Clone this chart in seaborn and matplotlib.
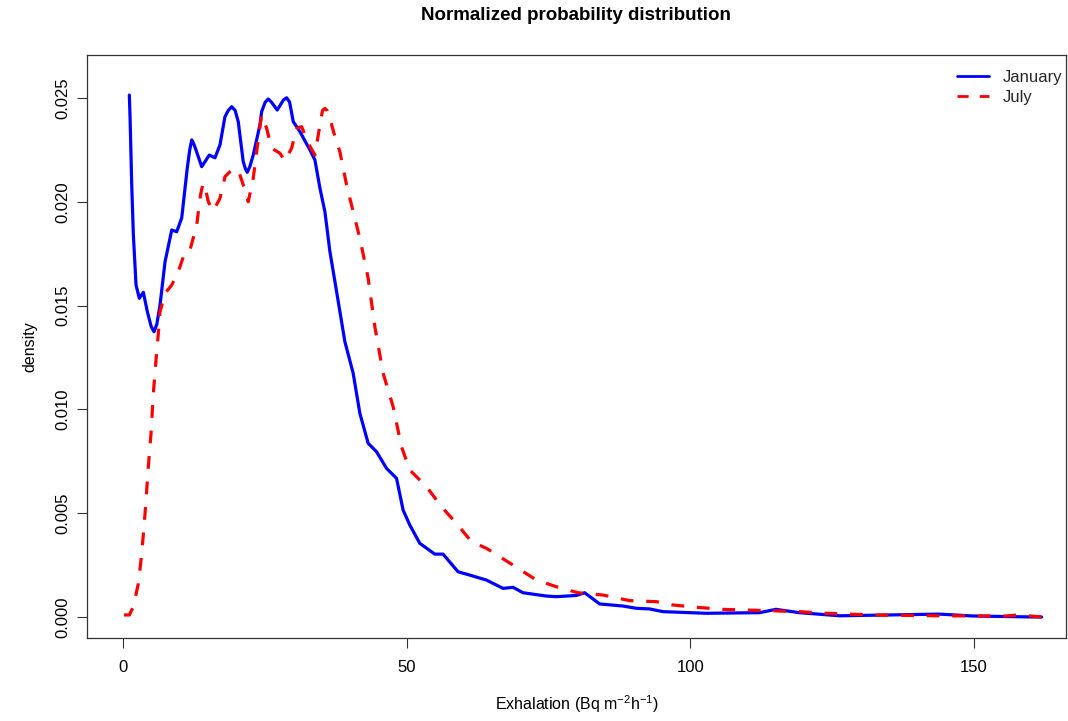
import numpy as np
import pandas as pd
import matplotlib
matplotlib.use("Agg")
import matplotlib.pyplot as plt
import seaborn as sns

# January density curve
jan_x = [1.16, 1.29, 1.58, 1.87, 2.34, 2.92, 3.63, 4.33, 5.0, 5.51, 6.0, 6.57, 7.45, 8.63,
         9.51, 10.39, 11.37, 11.8, 12.15, 12.5, 12.90, 13.91, 15.25, 16.25, 17.13, 18.01,
         18.6, 19.19, 19.8, 20.35, 21.23, 21.6, 21.94, 22.4, 22.99, 24.17, 24.47, 25.1,
         25.63, 26.2, 27.22, 28.3, 28.87, 29.4, 30.04, 31.21, 32.98, 33.86, 34.74, 35.62,
         36.50, 37.68, 39.14, 40.60, 41.78, 43.24, 44.72, 46.48, 48.24, 49.40, 50.58,
         52.34, 54.98, 56.44, 59.08, 61.14, 64.08, 67.01, 68.77, 70.53, 74.65, 76.41,
         79.93, 81.39, 84.03, 88.13, 90.49, 92.83, 95.18, 102.8, 112.2, 115.1, 119.2,
         126.3, 143.9, 149.8, 158.6, 161.9]
jan_y = [0.02514, 0.02404, 0.02081, 0.01840, 0.01599, 0.01535, 0.01564, 0.01471, 0.0140,
         0.01374, 0.0141, 0.01503, 0.01711, 0.01864, 0.01856, 0.01922, 0.02163, 0.0225,
         0.02298, 0.0228, 0.02250, 0.02169, 0.02225, 0.02212, 0.02274, 0.02410, 0.0244,
         0.02458, 0.0244, 0.02386, 0.02193, 0.0216, 0.02142, 0.0217, 0.02225, 0.02370,
         0.02434, 0.0248, 0.02495, 0.0248, 0.02442, 0.0249, 0.02501, 0.0248, 0.02386,
         0.02338, 0.02250, 0.02201, 0.02066, 0.01952, 0.01760, 0.01567, 0.01326, 0.01174,
         0.00981, 0.00837, 0.00796, 0.00716, 0.00668, 0.00515, 0.00443, 0.00355, 0.00303,
         0.00303, 0.00218, 0.00202, 0.00178, 0.00138, 0.00143, 0.00117, 0.00101, 0.00098,
         0.00104, 0.00117, 0.00063, 0.00053, 0.00042, 0.00039, 0.00026, 0.00018, 0.00021,
         0.00037, 0.00021, 0.00006, 0.00014, 0.00005, 0.00001, 0.0]

# July density curve
jul_x = [0.23, 1.16, 1.87, 2.75, 3.35, 3.93, 4.51, 4.98, 5.39, 5.86, 6.27, 6.57, 7.45,
         8.63, 9.79, 10.97, 11.85, 13.03, 13.61, 13.9, 14.19, 14.6, 15.07, 15.95, 17.13,
         18.01, 19.19, 20.35, 21.23, 22.11, 22.99, 24.05, 24.47, 25.35, 26.23, 27.69,
         28.57, 29.75, 30.63, 31.51, 32.68, 33.86, 34.74, 35.2, 35.62, 36.0, 36.50, 37.38,
         38.26, 39.44, 40.60, 41.78, 43.24, 44.42, 45.88, 47.64, 49.12, 50.58, 53.52,
         56.16, 58.80, 61.44, 64.08, 68.77, 72.89, 76.41, 80.21, 84.61, 89.31, 94.01,
         96.94, 101.06, 105.7, 114.5, 119.2, 123.9, 132.1, 143.9, 155.6, 158.0, 161.9]
jul_y = [0.0001, 0.0001, 0.0005, 0.00162, 0.00307, 0.00500, 0.00724, 0.00885, 0.01078,
         0.01238, 0.01367, 0.01471, 0.01559, 0.01599, 0.01663, 0.01760, 0.01768, 0.01888,
         0.02017, 0.0206, 0.02089, 0.0206, 0.02000, 0.01956, 0.02017, 0.02121, 0.02153,
         0.02153, 0.02081, 0.02000, 0.02113, 0.02338, 0.02418, 0.02354, 0.02258, 0.02234,
         0.02197, 0.02258, 0.02354, 0.02362, 0.02282, 0.02225, 0.02370, 0.0244, 0.02450,
         0.0244, 0.02402, 0.02314, 0.02241, 0.02081, 0.01952, 0.01824, 0.01632, 0.01398,
         0.01174, 0.01013, 0.00820, 0.00708, 0.00628, 0.00531, 0.00451, 0.00363, 0.00331,
         0.00250, 0.00178, 0.00146, 0.00117, 0.00106, 0.00079, 0.00074, 0.00058, 0.00047,
         0.00037, 0.00030, 0.00026, 0.00018, 0.0001, 0.00006, 0.00005, 0.0001, 0.0]

x_ticks = [0, 50, 100, 150]
y_ticks = [0.000, 0.005, 0.010, 0.015, 0.020, 0.025]

sns.set_style("white")
plt.rcParams["font.family"] = ["Liberation Sans", "DejaVu Sans"]
plt.rcParams["mathtext.fontset"] = "custom"
plt.rcParams["mathtext.rm"] = "Liberation Sans"
plt.rcParams["mathtext.it"] = "Liberation Sans:italic"

df_jan = pd.DataFrame({"x": jan_x, "y": jan_y})
df_jul = pd.DataFrame({"x": jul_x, "y": jul_y})

fig = plt.figure(figsize=(10.68, 7.21), dpi=100)
ax = fig.add_axes([87 / 1068, 1 - 638 / 721, (1066 - 87) / 1068, (638 - 55) / 721])

sns.lineplot(data=df_jan, x="x", y="y", ax=ax, sort=False, estimator=None,
             color="#0000ff", linewidth=2.3, label="January")
sns.lineplot(data=df_jul, x="x", y="y", ax=ax, sort=False, estimator=None,
             color="#ff0000", linewidth=2.3, linestyle=(0, (4, 4)), label="July")

ax.set_xlim(-6.3, 166.2)
ax.set_ylim(-0.00101, 0.02707)
ax.set_xticks(x_ticks)
ax.set_xticklabels([str(v) for v in x_ticks])
ax.set_yticks(y_ticks)
ax.set_yticklabels(["%.3f" % v for v in y_ticks], rotation=90, va="center")
ax.tick_params(axis="both", direction="out", length=7, width=0.8, color="#333333",
               labelsize=12, labelcolor="black", bottom=True, left=True)
ax.tick_params(axis="x", pad=9)
ax.tick_params(axis="y", pad=5)
for s in ax.spines.values():
    s.set_color("#333333")
    s.set_linewidth(0.9)

ax.set_xlabel(r"Exhalation (Bq m$^{-2}$h$^{-1}$)", fontsize=11.5, labelpad=13,
              color="black")
ax.set_ylabel("density", fontsize=11.5, labelpad=13, color="black")
fig.text(576 / 1068, 1 - 15 / 721, "Normalized probability distribution",
         ha="center", va="center", fontsize=13.5, fontweight="bold", color="black")

leg = ax.legend(loc="upper left", bbox_to_anchor=(957 / 1068, 1 - 70 / 721),
                bbox_transform=fig.transFigure, frameon=False, fontsize=12,
                borderpad=0, borderaxespad=0, handlelength=1.9, handletextpad=0.85,
                labelspacing=0.3)
for line in leg.get_lines():
    line.set_linewidth(2.0)

fig.savefig("out.png", dpi=100)
